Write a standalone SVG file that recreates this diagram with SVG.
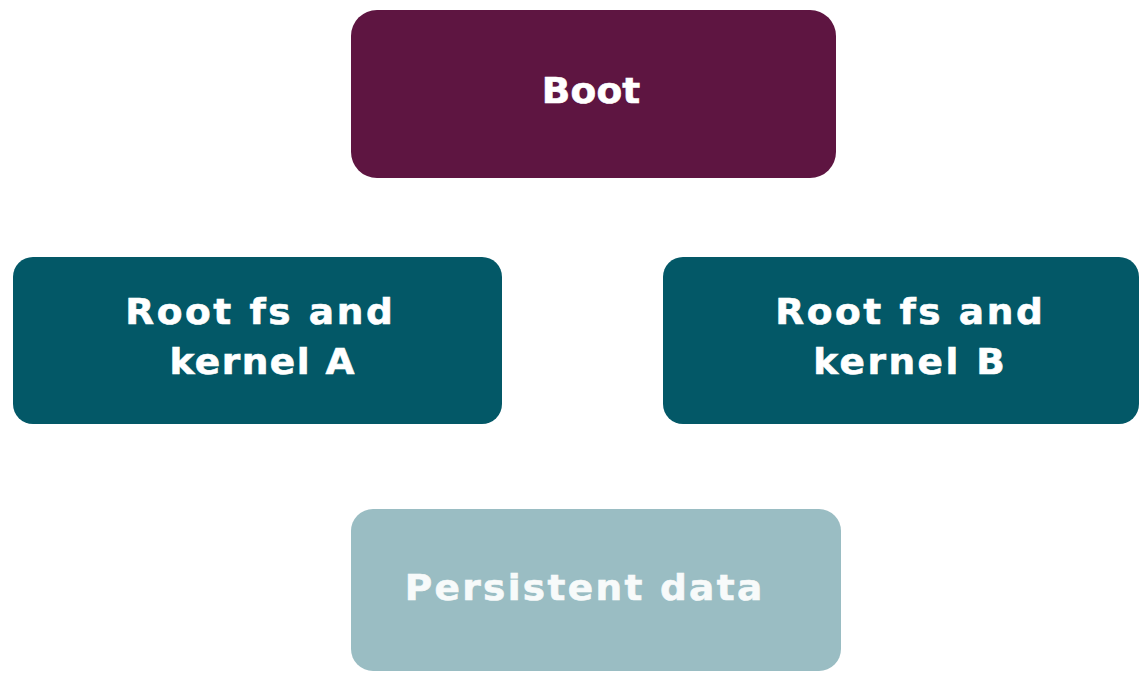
<svg xmlns="http://www.w3.org/2000/svg" width="1140" height="674" viewBox="0 0 1140 674">
  <style>
    .box { stroke: none; }
    .boot { fill: #5e1541; }
    .rootfs { fill: #035867; }
    .data { fill: #9abdc3; }
    .label { font-family: "DejaVu Sans", Verdana, sans-serif; font-weight: bold; font-size: 35px; fill: #ffffff; stroke: #ffffff; stroke-width: 0.6; text-anchor: middle; }
    .label.light { fill: #f7fafa; stroke: #f7fafa; }
  </style>
  <rect width="1140" height="674" fill="#ffffff"/>
  <g id="connectors"/>
  <g id="boot">
    <rect class="box boot" x="351" y="10" width="485" height="168" rx="26" ry="26"/>
    <text class="label" transform="translate(591 103) scale(1.07 1)" x="0" y="0" textLength="92" lengthAdjust="spacing">Boot</text>
  </g>
  <g id="rootfs-a">
    <rect class="box rootfs" x="13" y="257" width="489" height="167" rx="20" ry="20"/>
    <text class="label" transform="translate(259 324) scale(1.07 1)" x="0" y="0" textLength="250" lengthAdjust="spacing">Root fs and</text>
    <text class="label" transform="translate(262 374) scale(1.07 1)" x="0" y="0" textLength="173" lengthAdjust="spacing">kernel A</text>
  </g>
  <g id="rootfs-b">
    <rect class="box rootfs" x="663" y="257" width="476" height="167" rx="20" ry="20"/>
    <text class="label" transform="translate(909 324) scale(1.07 1)" x="0" y="0" textLength="250" lengthAdjust="spacing">Root fs and</text>
    <text class="label" transform="translate(909 374) scale(1.07 1)" x="0" y="0" textLength="179" lengthAdjust="spacing">kernel B</text>
  </g>
  <g id="persistent-data">
    <rect class="box data" x="351" y="509" width="490" height="162" rx="22" ry="22"/>
    <text class="label light" transform="translate(583.5 600) scale(1.07 1)" x="0" y="0" textLength="334" lengthAdjust="spacing">Persistent data</text>
  </g>
</svg>
